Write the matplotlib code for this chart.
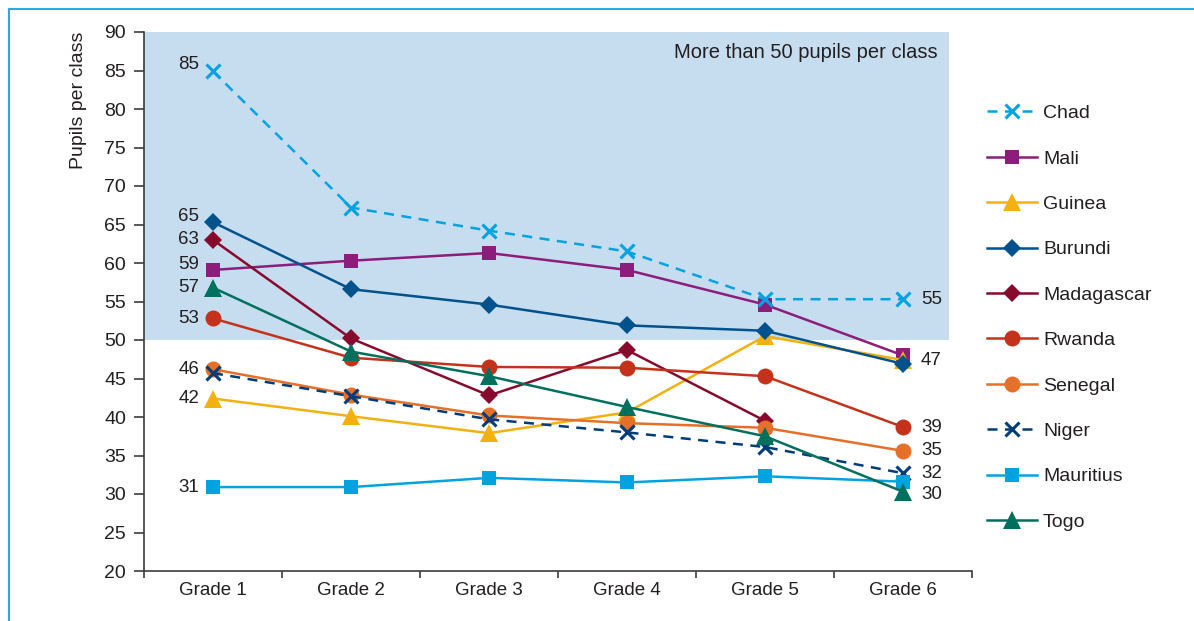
import numpy as np
import matplotlib
matplotlib.use('Agg')
import matplotlib.pyplot as plt
from matplotlib.lines import Line2D

plt.rcParams['font.family'] = ['Liberation Sans', 'DejaVu Sans']

# ---- data ----
grades = ['Grade 1', 'Grade 2', 'Grade 3', 'Grade 4', 'Grade 5', 'Grade 6']

chad = [84.9, 67.2, 64.2, 61.5, 55.3, 55.3]
mali = [59.1, 60.3, 61.3, 59.1, 54.6, 48.0]
guinea = [42.4, 40.1, 37.9, 40.6, 50.5, 47.4]
burundi = [65.3, 56.6, 54.6, 51.9, 51.2, 46.9]
madagascar = [63.0, 50.2, 42.8, 48.7, 39.5, np.nan]
rwanda = [52.8, 47.7, 46.5, 46.4, 45.3, 38.7]
senegal = [46.2, 42.9, 40.2, 39.2, 38.6, 35.6]
niger = [45.7, 42.7, 39.7, 38.0, 36.1, 32.7]
mauritius = [30.9, 30.9, 32.1, 31.5, 32.3, 31.6]
togo = [56.8, 48.5, 45.3, 41.3, 37.5, 30.3]

# value labels printed next to first / last points
first_labels = {'Chad': '85', 'Burundi': '65', 'Madagascar': '63', 'Mali': '59',
                'Togo': '57', 'Rwanda': '53', 'Senegal': '46', 'Guinea': '42',
                'Mauritius': '31'}
last_labels = {'Chad': '55', 'Guinea': '47', 'Rwanda': '39', 'Senegal': '35',
               'Niger': '32', 'Togo': '30'}

threshold = 50
band_text = 'More than 50 pupils per class'

# ---- styles ----
series = [
    ('Chad', chad, '#00A3E0', 'x', '--', 10),
    ('Mali', mali, '#8C1D7A', 's', '-', 9.5),
    ('Guinea', guinea, '#F2B10F', '^', '-', 12.5),
    ('Burundi', burundi, '#00528C', 'D', '-', 9),
    ('Madagascar', madagascar, '#870A2C', 'D', '-', 9),
    ('Rwanda', rwanda, '#C4321B', 'o', '-', 11.5),
    ('Senegal', senegal, '#E4702A', 'o', '-', 11.5),
    ('Niger', niger, '#003C78', 'x', '--', 10),
    ('Mauritius', mauritius, '#00A3E0', 's', '-', 9.5),
    ('Togo', togo, '#00705E', '^', '-', 12.5),
]
label_dy = {'Chad': 5, 'Burundi': 4, 'Mali': 4}
label_dy_end = {'Togo': -2}
txt_col = '#231F20'

fig = plt.figure(figsize=(11.94, 6.21), dpi=100)
ax = fig.add_axes([144 / 1194, 50 / 621, 828 / 1194, 539 / 621])

x = np.arange(len(grades))
ax.axhspan(threshold, 90, xmin=0, xmax=0.972, color='#C6DCEF', zorder=0, lw=0)
ax.text(5.25, 87.4, band_text, ha='right', va='center', fontsize=14.5, color=txt_col)

handles = []
for name, vals, col, mk, ls, ms in series:
    z = 5 if name == 'Chad' else 3
    ln, = ax.plot(x, vals, color=col, linestyle=ls, marker=mk, markersize=ms,
                  linewidth=1.8, markeredgewidth=2.2 if mk == 'x' else 0,
                  dashes=(4, 3) if ls == '--' else (None, None), zorder=z, label=name)
    handles.append(ln)
    if name in first_labels:
        ax.annotate(first_labels[name], (x[0], vals[0]), xytext=(-10, label_dy.get(name, 0)),
                    textcoords='offset points', ha='right', va='center',
                    fontsize=13.5, color=txt_col)
    if name in last_labels:
        ax.annotate(last_labels[name], (x[-1], vals[-1]), xytext=(13, label_dy_end.get(name, 0)),
                    textcoords='offset points', ha='left', va='center',
                    fontsize=13.5, color=txt_col)

ax.set_xlim(-0.5, 5.5)
ax.set_ylim(20, 90)
ax.set_yticks(np.arange(20, 91, 5))
ax.set_xticks(x)
ax.set_xticklabels(grades)
ax.set_xticks(np.arange(-0.5, 5.6, 1), minor=True)
ax.tick_params(axis='x', which='major', length=0, pad=8, labelsize=13.5, labelcolor=txt_col)
ax.tick_params(axis='x', which='minor', length=5, width=1.2, color='#3C3C3C')
ax.tick_params(axis='y', length=7, width=1.2, color='#3C3C3C', pad=6, labelsize=14,
               labelcolor=txt_col)
for s in ['top', 'right']:
    ax.spines[s].set_visible(False)
for s in ['left', 'bottom']:
    ax.spines[s].set_color('#3C3C3C')
    ax.spines[s].set_linewidth(1.2)
ax.set_ylabel('Pupils per class', loc='top', fontsize=14, color=txt_col, labelpad=12)

fig.legend(handles=handles, loc='upper left', bbox_to_anchor=(969 / 1194, 1 - 87 / 621),
           frameon=False, fontsize=14, handlelength=2.6, handletextpad=0.3,
           labelspacing=1.43, labelcolor=txt_col)

# thin blue frame lines on top and left of the figure
fig.add_artist(Line2D([9 / 1194, 1], [1 - 9 / 621, 1 - 9 / 621], color='#29ABE2', lw=1.5))
fig.add_artist(Line2D([9 / 1194, 9 / 1194], [0, 1 - 9 / 621], color='#29ABE2', lw=1.5))

fig.savefig('out.png', dpi=100)
